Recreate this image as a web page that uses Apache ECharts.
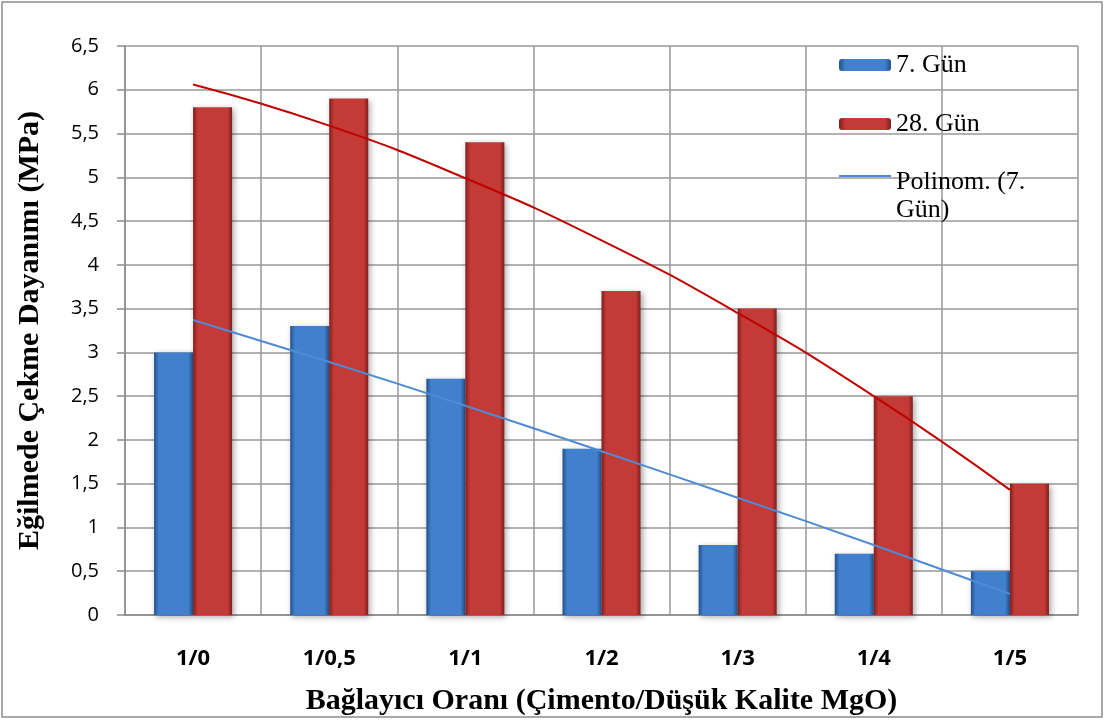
<!DOCTYPE html>
<html><head><meta charset="utf-8">
<script src="https://cdn.jsdelivr.net/npm/echarts@6/dist/echarts.min.js"></script>
<style>html,body{margin:0;padding:0;background:#fff}#c{width:1105px;height:720px}</style>
</head><body><div id="c"></div>
<script>
const categories = ['1/0','1/0,5','1/1','1/2','1/3','1/4','1/5'];
const day7 = [3.0, 3.3, 2.7, 1.9, 0.8, 0.7, 0.5];
const day28 = [5.8, 5.9, 5.4, 3.7, 3.5, 2.5, 1.5];
const trend7 = [3.37, 2.89, 2.39, 1.87, 1.34, 0.80, 0.24];
const trend28 = [6.06, 5.59, 4.99, 4.28, 3.45, 2.50, 1.43];
const yTicks = ['0','0,5','1','1,5','2','2,5','3','3,5','4','4,5','5','5,5','6','6,5'];

function grad(edge, mid) {
  return new echarts.graphic.LinearGradient(0,0,1,0,[
    {offset:0,color:edge},{offset:0.12,color:mid},{offset:0.5,color:mid},{offset:0.88,color:mid},{offset:1,color:edge}]);
}
const legendText = {fontFamily:'Liberation Serif',fontSize:26,color:'#000',lineHeight:28};
const chart = echarts.init(document.getElementById('c'));
chart.setOption({
  animation:false,
  graphic:[{type:'rect',shape:{x:2,y:2,width:1100,height:715},style:{fill:'none',stroke:'#8c8c8c',lineWidth:1.5}}],
  grid:{left:125,right:27,top:46,bottom:105,containLabel:false,outerBoundsMode:'none'},
  legend:[{
    orient:'vertical', left:834, top:46, itemGap:31, itemWidth:52, itemHeight:12,
    data:['7. Gün','28. Gün'],
    textStyle:legendText
  },{
    orient:'vertical', left:834, top:123, itemWidth:52, itemHeight:2,
    data:[{name:'Polinom. (7. Gün)',icon:'rect'}],
    textStyle:Object.assign({rich:{s:{lineHeight:40,fontSize:10},a:{fontFamily:'Liberation Serif',fontSize:26,color:'#000',lineHeight:28}}},legendText),
    formatter: () => '{s| }\n{a|Polinom. (7.}\n{a|Gün)}'
  }],
  xAxis:{type:'category',data:categories,
    axisLine:{lineStyle:{color:'#8c8c8c',width:1.5}},axisTick:{show:false},
    splitLine:{show:true,lineStyle:{color:'#999',width:1.5}},
    axisLabel:{margin:33,fontFamily:'Open Sans',fontWeight:'bold',fontSize:22,color:'#000'},
    name:'Bağlayıcı Oranı (Çimento/Düşük Kalite MgO)',nameLocation:'middle',nameGap:71,
    nameTextStyle:{fontFamily:'Liberation Serif',fontWeight:'bold',fontSize:30,color:'#000'}},
  yAxis:{type:'value',min:0,max:6.5,interval:0.5,
    axisLine:{show:true,lineStyle:{color:'#8c8c8c',width:1.5}},
    axisTick:{show:true,length:8,lineStyle:{color:'#8c8c8c',width:1.5}},
    splitLine:{lineStyle:{color:'#999',width:1.5}},
    axisLabel:{margin:26,fontFamily:'Open Sans',fontSize:20,color:'#000',
      formatter:(v)=>yTicks[Math.round(v*2)]},
    name:'Eğilmede Çekme Dayanımı (MPa)',nameLocation:'middle',nameGap:80,
    nameTextStyle:{fontFamily:'Liberation Serif',fontWeight:'bold',fontSize:30,color:'#000'}},
  series:[
    {name:'7. Gün',type:'bar',data:day7,barWidth:39,barGap:'0%',
      itemStyle:{color:grad('#24508a','#4080cc'),shadowColor:'rgba(0,0,0,0.35)',shadowBlur:6,shadowOffsetX:2,shadowOffsetY:2}},
    {name:'28. Gün',type:'bar',data:day28,barWidth:39,
      itemStyle:{color:grad('#7e1f1d','#c43a36'),shadowColor:'rgba(0,0,0,0.35)',shadowBlur:6,shadowOffsetX:2,shadowOffsetY:2}},
    {name:'Polinom. (7. Gün)',type:'line',data:trend7,smooth:true,symbol:'none',
      lineStyle:{color:'#4f8ad6',width:2},itemStyle:{color:'#4f8ad6'},z:5},
    {name:'Polinom. (28. Gün)',type:'line',data:trend28,smooth:true,symbol:'none',
      lineStyle:{color:'#c00000',width:2},itemStyle:{color:'#c00000'},z:5}
  ]
});
</script></body></html>
